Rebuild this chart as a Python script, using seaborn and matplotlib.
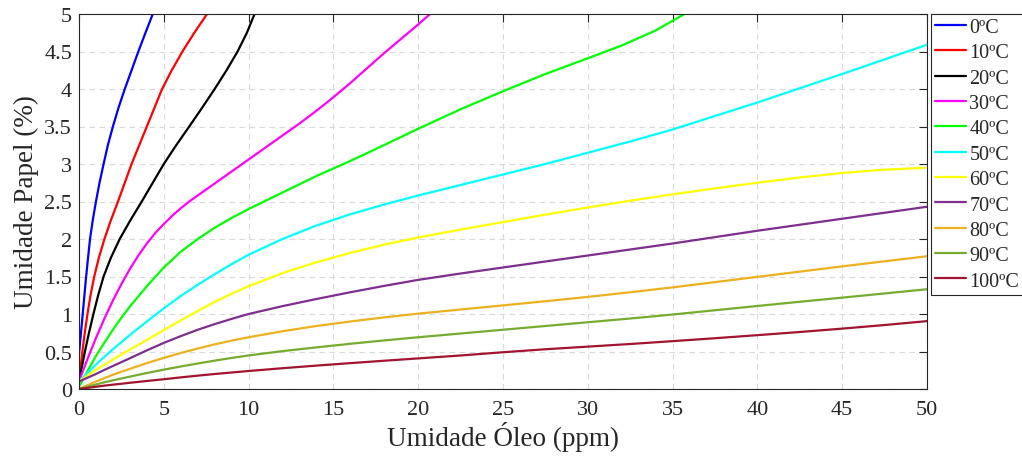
import matplotlib
matplotlib.use("Agg")
import matplotlib.pyplot as plt
import matplotlib.ticker as mticker
import pandas as pd
import seaborn as sns

# ---- data ----
labels = ["0ºC", "10ºC", "20ºC", "30ºC", "40ºC", "50ºC", "60ºC", "70ºC", "80ºC", "90ºC", "100ºC"]

# steep curves
x_0 = [0, 0.1, 0.2, 0.3, 0.4, 0.52, 0.65, 0.81, 1.0, 1.21, 1.45, 1.7, 2.0, 2.33, 2.7, 3.1, 3.5, 3.92, 4.35]
y_0 = [0.47, 0.71, 0.95, 1.2, 1.45, 1.72, 2.0, 2.25, 2.5, 2.75, 3.0, 3.25, 3.5, 3.75, 4.0, 4.25, 4.5, 4.75, 5.0]

x_10 = [0, 0.07, 0.2, 0.34, 0.5, 0.68, 0.9, 1.17, 1.5, 1.88, 2.3, 2.7, 3.1, 3.55, 4.0, 4.45, 4.9, 5.47, 6.1, 6.8, 7.55]
y_10 = [0.1, 0.25, 0.5, 0.75, 1.0, 1.25, 1.5, 1.75, 2.0, 2.25, 2.5, 2.75, 3.0, 3.25, 3.5, 3.75, 4.0, 4.25, 4.5, 4.75, 5.0]

x_20 = [0, 0.13, 0.35, 0.59, 0.85, 1.13, 1.45, 1.88, 2.4, 3.03, 3.7, 4.35, 5.0, 5.73, 6.5, 7.26, 8.0, 8.7, 9.35, 9.9, 10.35]
y_20 = [0.1, 0.25, 0.5, 0.75, 1.0, 1.25, 1.5, 1.75, 2.0, 2.25, 2.5, 2.75, 3.0, 3.25, 3.5, 3.75, 4.0, 4.25, 4.5, 4.75, 5.0]

x_30 = [0, 0.5, 1, 1.5, 2, 2.5, 3, 3.5, 4, 4.5, 5, 5.5, 6, 6.5, 7, 8, 9, 10, 11, 12, 13, 14, 15, 16, 17, 18, 19, 20, 20.7]
y_30 = [0.1, 0.4, 0.68, 0.94, 1.18, 1.4, 1.6, 1.78, 1.94, 2.08, 2.2, 2.31, 2.41, 2.5, 2.58, 2.74, 2.9, 3.06,
        3.22, 3.38, 3.54, 3.71, 3.89, 4.08, 4.28, 4.48, 4.67, 4.86, 5.0]

x_40 = [0, 0.5, 1, 1.5, 2, 2.5, 3, 4, 5, 6, 7, 8, 9, 10, 11, 12, 13, 14, 15.6, 17.5, 20, 22.5, 25, 27.5, 30, 32, 34, 35.7]
y_40 = [0.03, 0.24, 0.44, 0.62, 0.79, 0.95, 1.1, 1.37, 1.62, 1.83, 2.0, 2.15, 2.28, 2.4, 2.51, 2.62, 2.73, 2.84,
        3.0, 3.2, 3.47, 3.73, 3.97, 4.2, 4.41, 4.58, 4.78, 5.0]

# flatter curves, common x positions
x_low = [0, 0.5, 1, 1.5, 2, 2.5, 3, 4, 5, 6, 7, 8, 9, 10, 12, 14, 16, 18, 20,
         22.5, 25, 27.5, 30, 32.5, 35, 37.5, 40, 42.5, 45, 47.5, 50]
y_50 = [0.1, 0.215, 0.325, 0.43, 0.53, 0.625, 0.72, 0.9, 1.075, 1.24, 1.39, 1.53, 1.665, 1.79, 2.0, 2.18, 2.33,
        2.46, 2.58, 2.72, 2.86, 3.0, 3.15, 3.3, 3.46, 3.64, 3.82, 4.01, 4.2, 4.395, 4.59]
y_60 = [0.1, 0.18, 0.255, 0.325, 0.392, 0.46, 0.525, 0.655, 0.785, 0.915, 1.04, 1.16, 1.27, 1.37, 1.545, 1.69,
        1.815, 1.925, 2.02, 2.125, 2.225, 2.325, 2.42, 2.51, 2.595, 2.675, 2.75, 2.82, 2.88, 2.925, 2.95]
y_70 = [0.1, 0.15, 0.2, 0.255, 0.307, 0.358, 0.41, 0.515, 0.615, 0.705, 0.79, 0.865, 0.935, 1.0, 1.105, 1.2,
        1.29, 1.375, 1.455, 1.54, 1.62, 1.7, 1.78, 1.86, 1.94, 2.025, 2.11, 2.19, 2.27, 2.35, 2.43]
y_80 = [0, 0.05, 0.1, 0.145, 0.19, 0.23, 0.268, 0.345, 0.415, 0.48, 0.54, 0.595, 0.645, 0.69, 0.77, 0.84,
        0.9, 0.955, 1.005, 1.06, 1.115, 1.17, 1.228, 1.29, 1.355, 1.425, 1.495, 1.565, 1.635, 1.703, 1.77]
y_90 = [0, 0.03, 0.06, 0.09, 0.115, 0.14, 0.165, 0.213, 0.258, 0.3, 0.34, 0.378, 0.414, 0.447, 0.505, 0.555,
        0.603, 0.648, 0.69, 0.74, 0.79, 0.84, 0.89, 0.94, 0.993, 1.05, 1.107, 1.163, 1.218, 1.274, 1.33]
y_100 = [0, 0.015, 0.03, 0.045, 0.058, 0.07, 0.083, 0.107, 0.13, 0.155, 0.178, 0.2, 0.22, 0.24, 0.277, 0.312,
         0.345, 0.377, 0.408, 0.447, 0.49, 0.53, 0.565, 0.6, 0.638, 0.677, 0.718, 0.76, 0.805, 0.853, 0.905]

colors = ["#0000ff", "#ff0000", "#000000", "#ff00ff", "#00ff00", "#00ffff",
          "#ffff00", "#7e2f8e", "#edb120", "#77ac30", "#a2142f"]

series = [(x_0, y_0), (x_10, y_10), (x_20, y_20), (x_30, y_30), (x_40, y_40),
          (x_low, y_50), (x_low, y_60), (x_low, y_70), (x_low, y_80), (x_low, y_90), (x_low, y_100)]

rows = []
for lab, (xs, ys) in zip(labels, series):
    for i, (xv, yv) in enumerate(zip(xs, ys)):
        rows.append({"x": xv, "y": yv, "T": lab, "i": i})
df = pd.DataFrame(rows)

# ---- style ----
sns.set_style("white")
plt.rcParams["font.family"] = ["Liberation Serif", "DejaVu Serif"]

fig = plt.figure(figsize=(10.22, 4.64), dpi=100)
ax = fig.add_axes([79 / 1022, 1 - 390 / 464, (927 - 79) / 1022, (390 - 15) / 464])

sns.lineplot(data=df, x="x", y="y", hue="T", hue_order=labels,
             palette=dict(zip(labels, colors)), estimator=None, sort=False,
             linewidth=1.6, ax=ax, legend=False)

ax.set_xlim(0, 50)
ax.set_ylim(0, 5)
ax.xaxis.set_major_locator(mticker.MultipleLocator(5))
ax.yaxis.set_major_locator(mticker.MultipleLocator(0.5))
ax.yaxis.set_major_formatter(mticker.FuncFormatter(lambda v, p: f"{v:g}"))
ax.xaxis.set_major_formatter(mticker.FuncFormatter(lambda v, p: f"{v:g}"))

ax.grid(True, color="#d9d9d9", linestyle=(0, (5, 4)), linewidth=0.8)
ax.set_axisbelow(True)
ax.tick_params(axis="both", which="major", direction="in", length=6, width=0.8,
               colors="#262626", labelsize=16, top=True, right=True)
ax.tick_params(axis="x", pad=8)
ax.tick_params(axis="y", pad=5)
for sp in ax.spines.values():
    sp.set_color("#262626")
    sp.set_linewidth(0.8)

ax.set_xlabel("Umidade Óleo (ppm)", fontsize=19.5, color="#262626", labelpad=1)
ax.set_ylabel("Umidade Papel (%)", fontsize=19.5, color="#262626", labelpad=4)

handles = ax.get_lines()[:len(labels)]
leg = fig.legend(handles, labels, loc="upper left",
                 bbox_to_anchor=(931 / 1022, 1 - 15 / 464), bbox_transform=fig.transFigure,
                 borderaxespad=0, fontsize=14.5, frameon=True, fancybox=False,
                 framealpha=1, edgecolor="#262626", handlelength=1.55,
                 handletextpad=0.15, labelspacing=0.31, borderpad=0.2)
leg.get_frame().set_linewidth(0.8)

fig.savefig("out.png", dpi=100)
